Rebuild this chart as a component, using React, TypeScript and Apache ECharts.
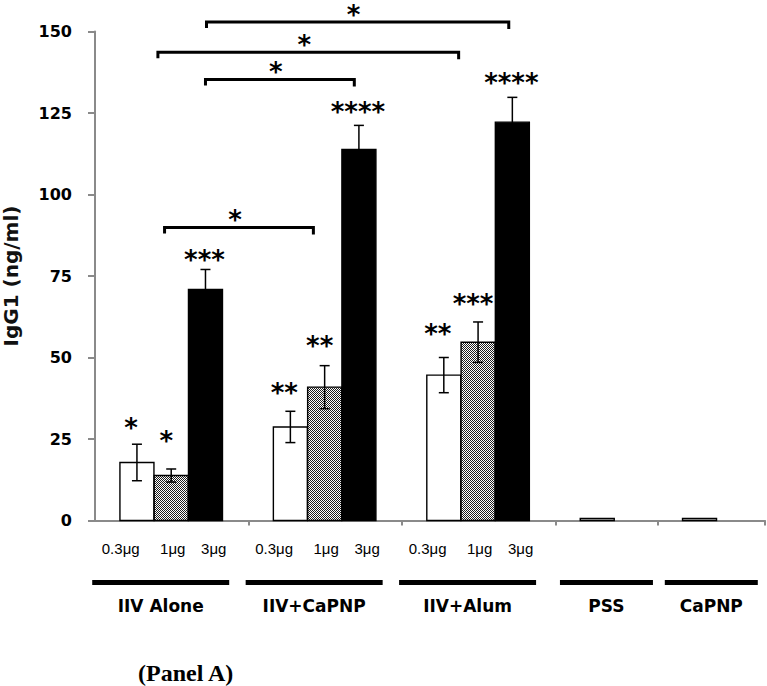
import React, { useEffect, useRef } from "react";
import * as echarts from "echarts";

// ---------- data ----------
const groups = ["IIV Alone", "IIV+CaPNP", "IIV+Alum", "PSS", "CaPNP"];
const groupSlots = [3, 3, 3, 2, 2];
const doses = ["0.3μg", "1μg", "3μg"];

// bar means (ng/ml); PSS and CaPNP have a single (first-slot) bar
const lowDose = [17.8, 28.7, 44.6, 0.6, 0.6];
const midDose = [13.8, 40.9, 54.7, null, null];
const highDose = [70.9, 113.8, 122.2, null, null];
// error (SEM)
const lowErr = [5.6, 4.8, 5.4, 0, 0];
const midErr = [2.0, 6.6, 6.2, 0, 0];
const highErr = [6.1, 7.4, 7.6, 0, 0];
// significance marks above bars and the level they sit at
const lowSig = ["*", "**", "**", "", ""];
const midSig = ["*", "**", "***", "", ""];
const highSig = ["***", "****", "****", "", ""];
const lowSigLevel = [30.1, 40.8, 59.2, 0, 0];
const midSigLevel = [26.1, 55.5, 68.4, 0, 0];
const highSigLevel = [81.9, 127.3, 135.9, 0, 0];

// pairwise comparison brackets (x in slot units, level in ng/ml)
const bracketFrom = [1.36, 2.16, 1.23, 2.18];
const bracketTo = [4.27, 5.07, 7.11, 8.09];
const bracketLevel = [89.9, 135.3, 143.6, 152.9];
const bracketLabel = ["*", "*", "*", "*"];

const yMin = 0;
const yMax = 150;
const yInterval = 25;

// ---------- layout constants ----------
const X_MAX = 13.1;
const SLOT_OFFSETS = [0.82, 1.49, 2.16];
const BAR_W = 0.665;
const STAR_DX = [-6, -5, -1];

const groupStart = (i: number) => {
  let s = 0;
  for (let k = 0; k < i; k++) s += groupSlots[k];
  return s;
};

function makePattern() {
  const c = document.createElement("canvas");
  c.width = 2;
  c.height = 2;
  const ctx = c.getContext("2d")!;
  ctx.fillStyle = "#ffffff";
  ctx.fillRect(0, 0, 2, 2);
  ctx.fillStyle = "#1e1e1e";
  ctx.fillRect(0, 0, 1, 1);
  ctx.fillRect(1, 1, 1, 1);
  return { image: c, repeat: "repeat", imageWidth: 2, imageHeight: 2 } as any;
}

const STAR_FONT = 'bold 26px "DejaVu Sans"';

export default function App() {
  const ref = useRef<HTMLDivElement>(null);

  useEffect(() => {
    if (!ref.current) return;
    const chart = echarts.init(ref.current, null, { renderer: "svg" });
    const pattern = makePattern();

    const doseSets = [
      { vals: lowDose, errs: lowErr, sig: lowSig, lvl: lowSigLevel, fill: "#ffffff" },
      { vals: midDose, errs: midErr, sig: midSig, lvl: midSigLevel, fill: pattern },
      { vals: highDose, errs: highErr, sig: highSig, lvl: highSigLevel, fill: "#000000" },
    ];

    const barSeries = doseSets.map((set, d) => {
      const items: any[] = [];
      const meta: { sig: string; lvl: number }[] = [];
      set.vals.forEach((v, i) => {
        if (v == null) return;
        items.push([groupStart(i) + SLOT_OFFSETS[d], v, set.errs[i], set.lvl[i]]);
        meta.push({ sig: set.sig[i], lvl: set.lvl[i] });
      });
      return {
        type: "custom",
        name: doses[d],
        clip: false,
        data: items,
        renderItem: (params: any, api: any) => {
          const x = api.value(0);
          const v = api.value(1);
          const e = api.value(2);
          const lvl = api.value(3);
          const base = api.coord([x, 0]);
          const top = api.coord([x, v]);
          const w = api.size([BAR_W, 0])[0];
          const children: any[] = [
            {
              type: "rect",
              shape: { x: base[0] - w / 2, y: top[1], width: w, height: base[1] - top[1] },
              style: { fill: set.fill, stroke: "#000", lineWidth: 1.4 },
            },
          ];
          if (e > 0) {
            const hi = api.coord([x, v + e]);
            const lo = api.coord([x, v - e]);
            const cw = 5;
            children.push(
              { type: "line", shape: { x1: top[0], y1: hi[1], x2: top[0], y2: lo[1] }, style: { stroke: "#000", lineWidth: 1.5 } },
              { type: "line", shape: { x1: top[0] - cw, y1: hi[1], x2: top[0] + cw, y2: hi[1] }, style: { stroke: "#000", lineWidth: 1.5 } },
              { type: "line", shape: { x1: top[0] - cw, y1: lo[1], x2: top[0] + cw, y2: lo[1] }, style: { stroke: "#000", lineWidth: 1.5 } }
            );
          }
          const m = meta[params.dataIndex];
          if (m && m.sig) {
            const sp = api.coord([x, lvl]);
            children.push({
              type: "text",
              style: {
                text: m.sig,
                x: sp[0] + STAR_DX[d],
                y: sp[1] + 6,
                font: STAR_FONT,
                fill: "#000",
                align: "center",
                verticalAlign: "middle",
              },
            });
          }
          return { type: "group", children };
        },
      };
    });

    const groupSeries = {
      type: "custom",
      name: "groups",
      clip: false,
      data: groups.map((_, i) => [groupStart(i), groupStart(i) + groupSlots[i]]),
      renderItem: (params: any, api: any) => {
        const i = params.dataIndex;
        const s = api.value(0);
        const eAdj = i === groups.length - 1 ? X_MAX : api.value(1);
        const p0 = api.coord([s, 0]);
        const p1 = api.coord([eAdj, 0]);
        const cx = (p0[0] + p1[0]) / 2;
        const three = groupSlots[i] === 3;
        const lineCx = cx + (three ? -11 : 0);
        const lineW = three ? 137 : 93;
        const y0 = p0[1];
        const children: any[] = [];
        if (midDose[i] != null) {
          const dx = [-51, 1, 42];
          doses.forEach((t, k) => {
            children.push({
              type: "text",
              style: {
                text: t,
                x: cx + dx[k],
                y: y0 + 28,
                font: '15px "Liberation Sans"',
                fill: "#000",
                align: "center",
                verticalAlign: "middle",
              },
            });
          });
        }
        children.push({
          type: "rect",
          shape: { x: lineCx - lineW / 2, y: y0 + 59.5, width: lineW, height: 5 },
          style: { fill: "#000" },
        });
        children.push({
          type: "text",
          style: {
            text: groups[i],
            x: lineCx,
            y: y0 + 85,
            font: 'bold 17px "DejaVu Sans"',
            fill: "#000",
            align: "center",
            verticalAlign: "middle",
          },
        });
        return { type: "group", children };
      },
    };

    const bracketSeries = {
      type: "custom",
      name: "brackets",
      clip: false,
      data: bracketFrom.map((f, i) => [f, bracketTo[i], bracketLevel[i]]),
      renderItem: (params: any, api: any) => {
        const a = api.coord([api.value(0), api.value(2)]);
        const b = api.coord([api.value(1), api.value(2)]);
        return {
          type: "group",
          children: [
            {
              type: "polyline",
              shape: { points: [[a[0], a[1] + 6], [a[0], a[1]], [b[0], b[1]], [b[0], b[1] + 7]] },
              style: { stroke: "#000", lineWidth: 3, fill: null, lineJoin: "miter", lineCap: "butt" },
            },
            {
              type: "text",
              style: {
                text: bracketLabel[params.dataIndex],
                x: (a[0] + b[0]) / 2 - 4,
                y: a[1] - 13 + 6,
                font: STAR_FONT,
                fill: "#000",
                align: "center",
                verticalAlign: "middle",
              },
            },
          ],
        };
      },
    };

    chart.setOption({
      animation: false,
      backgroundColor: "#ffffff",
      grid: { left: 95, right: 2, top: 31.5, bottom: 165.5, containLabel: false, outerBoundsMode: "none" },
      xAxis: {
        type: "value",
        min: 0,
        max: X_MAX,
        axisLine: { show: true, lineStyle: { color: "#8a8a8a", width: 2 } },
        axisTick: {
          show: true,
          length: 5,
          customValues: [3, 6, 9, 11, X_MAX],
          lineStyle: { color: "#8a8a8a", width: 2 },
        },
        axisLabel: { show: false },
        splitLine: { show: false },
      },
      yAxis: {
        type: "value",
        min: yMin,
        max: yMax,
        interval: yInterval,
        name: "IgG1 (ng/ml)",
        nameLocation: "middle",
        nameGap: 74,
        nameTextStyle: { fontFamily: "DejaVu Sans", fontWeight: "bold", fontSize: 20, color: "#111" },
        axisLine: { show: true, lineStyle: { color: "#8a8a8a", width: 2 } },
        axisTick: { show: true, length: 7, lineStyle: { color: "#8a8a8a", width: 2 } },
        axisLabel: { fontFamily: "DejaVu Sans", fontWeight: "bold", fontSize: 16, color: "#000", margin: 23 },
        splitLine: { show: false },
      },
      graphic: [
        {
          type: "text",
          left: 138,
          top: 661,
          style: { text: "(Panel A)", font: 'bold 24px "Liberation Serif"', fill: "#000" },
        },
      ],
      series: [...barSeries, groupSeries, bracketSeries],
    } as any);

    return () => chart.dispose();
  }, []);

  return (
    <div
      ref={ref}
      style={{ position: "fixed", left: 0, top: 0, width: 767, height: 686, background: "#fff" }}
    />
  );
}
